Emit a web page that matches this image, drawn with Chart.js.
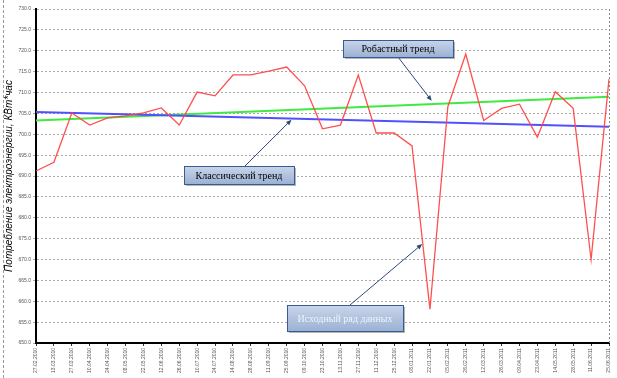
<!DOCTYPE html>
<html lang="ru">
<head>
  <meta charset="UTF-8">
  <title>Потребление электроэнергии</title>
  <script src="https://cdn.jsdelivr.net/npm/chart.js"></script>
  <style>
    body {
      margin: 0;
      background-color: #ffffff;
    }
    #wrap {
      width: 617px;
      height: 378px;
    }
  </style>
</head>
<body>
  <div id="wrap"><canvas id="consumptionChart" width="617" height="378"></canvas></div>

  <script>
    // dates of the readings
    const dates = [
      "27.02.2010", "13.03.2010", "27.03.2010", "10.04.2010", "24.04.2010", "08.05.2010",
      "22.05.2010", "12.06.2010", "26.06.2010", "10.07.2010", "24.07.2010", "14.08.2010",
      "28.08.2010", "11.09.2010", "25.09.2010", "09.10.2010", "23.10.2010", "13.11.2010",
      "27.11.2010", "11.12.2010", "25.12.2010", "08.01.2011", "22.01.2011", "05.02.2011",
      "26.02.2011", "12.03.2011", "26.03.2011", "09.04.2011", "23.04.2011", "14.05.2011",
      "28.05.2011", "11.06.2011", "25.06.2011"
    ];

    // source series, kWh
    const consumption = [
      691.2, 693.3, 705.1, 702.2, 703.9, 704.4, 705.1, 706.3, 702.2, 710.1, 709.2, 714.2,
      714.2, 715.1, 716.1, 711.6, 701.3, 702.2, 714.2, 700.3, 700.3, 697.2, 658.1, 706.6,
      719.2, 703.3, 706.2, 707.2, 699.3, 710.2, 706.2, 670.0, 713.2
    ];

    // trend lines: value at the first and at the last date
    const classicTrend = [705.3, 701.8];
    const robustTrend = [703.3, 709.0];

    // y axis
    const yMin = 650;
    const yMax = 730;
    const yStep = 5;

    const yTitle = "Потребление электроэнергии, КВт*час";

    // callout boxes: tip is (index, value) on the chart, box and tail in pixels
    const callouts = [
      { text: "Робастный тренд", box: [343, 40, 110, 17], tail: [398, 57], tip: [22.1, 708.0], color: "#000000" },
      { text: "Классический тренд", box: [184, 166, 110, 18], tail: [245, 166], tip: [14.27, 703.5], color: "#000000" },
      { text: "Исходный ряд данных", box: [287, 305, 116, 26], tail: [350, 305], tip: [21.57, 673.7], color: "#eef3fb" }
    ];

    function drawArrow(ctx, x1, y1, x2, y2) {
      const ang = Math.atan2(y2 - y1, x2 - x1);
      ctx.strokeStyle = "#2c4a78";
      ctx.fillStyle = "#2c4a78";
      ctx.lineWidth = 1;
      ctx.beginPath();
      ctx.moveTo(x1, y1);
      ctx.lineTo(x2 - 4 * Math.cos(ang), y2 - 4 * Math.sin(ang));
      ctx.stroke();
      ctx.beginPath();
      ctx.moveTo(x2, y2);
      ctx.lineTo(x2 - 6 * Math.cos(ang - 0.4), y2 - 6 * Math.sin(ang - 0.4));
      ctx.lineTo(x2 - 6 * Math.cos(ang + 0.4), y2 - 6 * Math.sin(ang + 0.4));
      ctx.closePath();
      ctx.fill();
    }

    const extras = {
      id: "extras",
      afterDraw(chart) {
        const ctx = chart.ctx;
        const area = chart.chartArea;
        const xs = chart.scales.x;
        const ys = chart.scales.y;
        ctx.save();

        // outer dashed frame (left side) and dotted right edge of plot
        ctx.strokeStyle = "#9a9a9a";
        ctx.lineWidth = 1;
        ctx.setLineDash([3, 2]);
        ctx.beginPath();
        ctx.moveTo(3.5, 0);
        ctx.lineTo(3.5, 378);
        ctx.stroke();
        ctx.setLineDash([2, 2]);
        ctx.strokeStyle = "#888888";
        ctx.beginPath();
        ctx.moveTo(area.right + 0.5, area.top);
        ctx.lineTo(area.right + 0.5, area.bottom);
        ctx.stroke();
        ctx.setLineDash([]);

        callouts.forEach(c => {
          const [bx, by, bw, bh] = c.box;
          const tx = xs.getPixelForValue(c.tip[0]);
          const ty = ys.getPixelForValue(c.tip[1]);
          drawArrow(ctx, c.tail[0], c.tail[1], tx, ty);

          ctx.fillStyle = "rgba(90,90,90,0.45)";
          ctx.fillRect(bx + 2, by + 2, bw, bh);
          const g = ctx.createLinearGradient(0, by, 0, by + bh);
          g.addColorStop(0, "#c9d6ea");
          g.addColorStop(1, "#9cb1d3");
          ctx.fillStyle = g;
          ctx.fillRect(bx, by, bw, bh);
          ctx.strokeStyle = "#3a5a94";
          ctx.lineWidth = 1;
          ctx.strokeRect(bx + 0.5, by + 0.5, bw, bh);

          ctx.fillStyle = c.color;
          ctx.font = "10px 'Liberation Serif'";
          ctx.textAlign = "center";
          ctx.textBaseline = "middle";
          ctx.fillText(c.text, bx + bw / 2, by + bh / 2 + 1);
        });
        ctx.restore();
      }
    };

    const chart = new Chart(document.getElementById("consumptionChart").getContext("2d"), {
      type: "line",
      data: {
        labels: dates,
        datasets: [
          {
            label: "Исходный ряд данных",
            data: consumption,
            borderColor: "rgba(255,70,70,0.95)",
            borderWidth: 1.3,
            pointRadius: 0,
            tension: 0,
            order: 0
          },
          {
            label: "Классический тренд",
            data: [{ x: dates[0], y: classicTrend[0] }, { x: dates[dates.length - 1], y: classicTrend[1] }],
            borderColor: "#5050ff",
            borderWidth: 2,
            pointRadius: 0,
            order: 1
          },
          {
            label: "Робастный тренд",
            data: [{ x: dates[0], y: robustTrend[0] }, { x: dates[dates.length - 1], y: robustTrend[1] }],
            borderColor: "#40ea40",
            borderWidth: 2,
            pointRadius: 0,
            order: 2
          }
        ]
      },
      options: {
        responsive: false,
        animation: false,
        layout: { padding: { left: 3, right: 7, top: 9, bottom: 0 } },
        plugins: {
          legend: { display: false },
          tooltip: { enabled: false }
        },
        scales: {
          x: {
            offset: false,
            grid: { drawOnChartArea: false, drawTicks: true, tickLength: 3, color: "#333333" },
            border: { color: "#000000", width: 2 },
            ticks: {
              autoSkip: false,
              maxRotation: 90,
              minRotation: 90,
              padding: 2,
              color: "#555555",
              font: { size: 5, family: "'Liberation Sans', Arial" }
            },
            afterFit: s => { s.height = 35; }
          },
          y: {
            min: yMin,
            max: yMax,
            ticks: {
              stepSize: yStep,
              padding: 2,
              color: "#555555",
              font: { size: 5, family: "'Liberation Sans', Arial" },
              callback: v => v.toFixed(1)
            },
            grid: { color: "#a8a8a8", lineWidth: 1, tickLength: 3 },
            border: { color: "#000000", width: 2, dash: [2, 2] },
            title: {
              display: true,
              text: yTitle,
              color: "#000000",
              padding: 0,
              font: { size: 10, style: "italic", family: "'Liberation Sans', Arial" }
            },
            afterFit: s => { s.width = 33; }
          }
        }
      },
      plugins: [extras]
    });
  </script>
</body>
</html>
